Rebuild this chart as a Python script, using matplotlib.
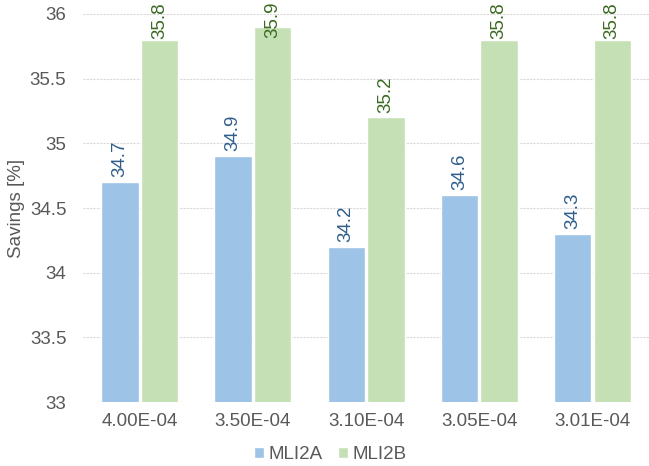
import matplotlib.pyplot as plt
import numpy as np

categories = ["4.00E-04", "3.50E-04", "3.10E-04", "3.05E-04", "3.01E-04"]
mli2a = [34.7, 34.9, 34.2, 34.6, 34.3]
mli2b = [35.8, 35.9, 35.2, 35.8, 35.8]

plt.rcParams['font.family'] = ['Liberation Sans', 'DejaVu Sans']
FS = 13.5
GREY = "#595959"

fig = plt.figure(figsize=(6.49, 4.66), dpi=100)
ax = fig.add_axes([0.128, 0.137, 0.872, 0.833])

x = np.arange(len(categories))
w = 0.33
b1 = ax.bar(x - w / 2 - 0.01, mli2a, w, color="#9DC3E6", edgecolor="white",
            linewidth=1, label="MLI2A", zorder=2)
b2 = ax.bar(x + w / 2 + 0.01, mli2b, w, color="#C5E0B4", edgecolor="white",
            linewidth=1, label="MLI2B", zorder=2)

# rotated value labels above each bar
PAD = 3.5
labels = []
for bars, vals, col in [(b1, mli2a, "#2E5E8C"), (b2, mli2b, "#3B6A22")]:
    for r, v in zip(bars, vals):
        t = ax.annotate(f"{v:.1f}", (r.get_x() + r.get_width() / 2, v),
                        xytext=(0, PAD), textcoords="offset points",
                        ha="center", va="bottom", rotation=90,
                        fontsize=FS, color=col, annotation_clip=False)
        labels.append(t)

ax.set_ylim(33, 36)
ax.set_xlim(-0.5, len(categories) - 0.5)
ax.set_yticks(np.arange(33, 36.01, 0.5))
ax.set_yticklabels(["33", "33.5", "34", "34.5", "35", "35.5", "36"])
ax.set_xticks(x)
ax.set_xticklabels(categories)
ax.tick_params(axis="both", length=0, labelsize=FS, colors=GREY)
ax.tick_params(axis="x", pad=8)
ax.tick_params(axis="y", pad=12)

ax.yaxis.grid(True, color="#D9D9D9", linestyle=(0, (2, 1)), linewidth=0.8, zorder=0)
for s in ax.spines.values():
    s.set_visible(False)

ax.set_ylabel("Savings [%]", fontsize=FS, color=GREY)
ax.yaxis.set_label_coords(-0.102, 0.5)

fig.legend(handles=[b1, b2], loc="center", bbox_to_anchor=(0.509, 0.024), ncol=2,
           frameon=False, fontsize=FS, handlelength=0.53, handleheight=0.53,
           handletextpad=0.21, columnspacing=0.85, labelcolor=GREY,
           borderpad=0, borderaxespad=0)

# push any label that would run past the top edge back inside the figure
fig.canvas.draw()
H = fig.bbox.height
for t in labels:
    ext = t.get_window_extent()
    if ext.y1 > H - 2:
        t.set_position((0, PAD - (ext.y1 - (H - 2)) * 72 / fig.dpi))

fig.savefig("out.png", dpi=100)
